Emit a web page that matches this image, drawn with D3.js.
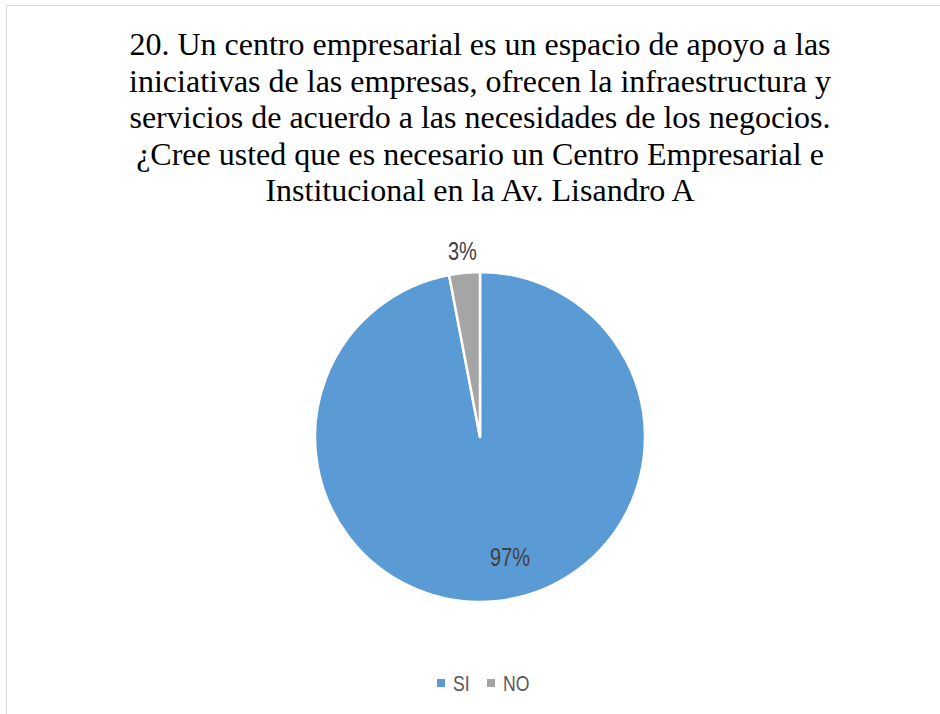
<!DOCTYPE html>
<html>
<meta charset="utf-8">
<style>
  body { margin: 0; padding: 0; background: #fff; }
  .title { font-family: "Liberation Serif", "Times New Roman", serif; font-size: 32px; fill: #000; }
  .lbl { font-family: "Liberation Sans", Arial, sans-serif; font-size: 25px; fill: #404040; }
  .leg { font-family: "Liberation Sans", Arial, sans-serif; font-size: 22px; fill: #595959; }
</style>
<body>
<script src="https://d3js.org/d3.v7.min.js"></script>
<script>
// data
var categories = ["SI", "NO"];
var values = [97, 3];
var colors = ["#5b9bd5", "#a5a5a5"];
var titleLines = [
  "20. Un centro empresarial es un espacio de apoyo a las",
  "iniciativas de las empresas, ofrecen la infraestructura y",
  "servicios de acuerdo a las necesidades de los negocios.",
  "¿Cree usted que es necesario un Centro Empresarial e",
  "Institucional en la Av. Lisandro A"
];

var width = 940, height = 714;
var svg = d3.select("body").append("svg")
  .attr("width", width).attr("height", height);

// chart border
svg.append("rect")
  .attr("x", 6.5).attr("y", 5.5)
  .attr("width", 960).attr("height", 760)
  .attr("fill", "none").attr("stroke", "#d9d9d9");

// title
svg.append("g").selectAll("text")
  .data(titleLines).enter().append("text")
  .attr("class", "title")
  .attr("x", 480)
  .attr("y", function(d, i) { return 55 + i * 36.5; })
  .attr("text-anchor", "middle")
  .text(function(d) { return d; });

var cx = 480, cy = 437, r = 165;
var color = d3.scaleOrdinal().domain(categories).range(colors);

var pie = d3.pie().sort(null).value(function(d) { return d.v; });
var data = categories.map(function(c, i) { return {c: c, v: values[i]}; });
var arcs = pie(data);
var arc = d3.arc().innerRadius(0).outerRadius(r);

var g = svg.append("g").attr("transform", "translate(" + cx + "," + cy + ")");
g.selectAll("path").data(arcs).enter().append("path")
  .attr("d", arc)
  .attr("fill", function(d) { return color(d.data.c); })
  .attr("stroke", "#fff")
  .attr("stroke-width", 2.5)
  .attr("stroke-linejoin", "round");

// labels (small slice outside, big slice inside like excel does)
var total = d3.sum(values);
function labelPos(d) {
  var a, rr;
  if (d.data.c === "NO") {
    a = (d.startAngle + d.endAngle) / 2; rr = r + 22;
  } else {
    a = Math.PI - 0.245; rr = r * 0.75;
  }
  return [Math.sin(a) * rr, -Math.cos(a) * rr];
}
g.selectAll("text").data(arcs).enter().append("text")
  .attr("class", "lbl")
  .attr("text-anchor", "middle")
  .attr("dy", "0.35em")
  .attr("transform", function(d) {
    return "translate(" + labelPos(d) + ") scale(0.8,1)";
  })
  .text(function(d) { return Math.round(d.data.v / total * 100) + "%"; });

// legend
var legend = svg.append("g").attr("transform", "translate(437,683)");
var offs = [0, 50];
categories.forEach(function(c, i) {
  var lg = legend.append("g").attr("transform", "translate(" + offs[i] + ",0)");
  lg.append("rect").attr("x", 0).attr("y", -4).attr("width", 8).attr("height", 8)
    .attr("fill", color(c));
  lg.append("text").attr("class", "leg")
    .attr("transform", "translate(16,0) scale(0.8,1)")
    .attr("dy", "0.35em").text(c);
});
</script>
</body>
</html>
